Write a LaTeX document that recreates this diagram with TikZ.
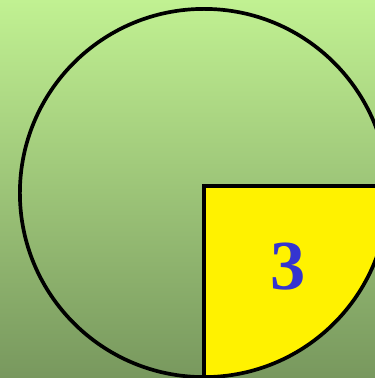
\documentclass[tikz,border=0pt]{standalone}
\usepackage{fontspec}
\setmainfont{Liberation Serif}
\definecolor{bgtop}{RGB}{193,241,146}
\definecolor{bgbottom}{RGB}{120,152,94}
\definecolor{piece}{RGB}{255,242,0}
\definecolor{numblue}{RGB}{52,52,208}

\begin{document}
\begin{tikzpicture}[x=0.01cm, y=0.01cm,
    outline/.style={draw=black, line width=1.05pt},
    numlabel/.style={text=numblue, font=\bfseries\fontsize{20}{20}\selectfont}
]

% Background
\shade[top color=bgtop, bottom color=bgbottom] (0,0) rectangle (375,378);
\useasboundingbox (0,0) rectangle (375,378);

% Yellow quarter
\begin{scope}
  \clip (204,185) circle (1.84cm);
  \fill[piece] (204,192) rectangle (400,-10);
\end{scope}

% Circle and cuts
\coordinate (corner) at (204,192);
\coordinate (rim) at (375,192);
\coordinate (foot) at (204,1);
\draw[outline] (204,185) circle (1.84cm);
\draw[outline] (foot) -- (corner) -- (rim);

% Number
\node[numlabel] (three) at (288,111) {3};

\end{tikzpicture}
\end{document}
